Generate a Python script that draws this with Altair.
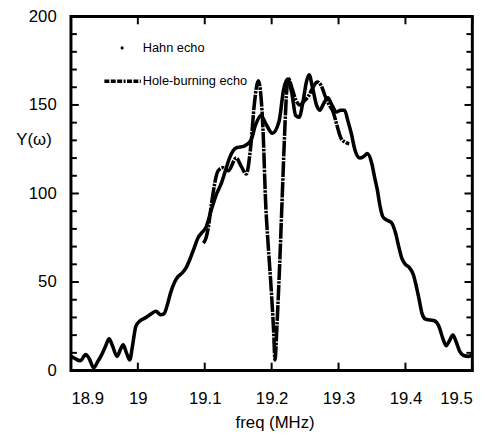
import altair as alt
import pandas as pd

# ---- data ----
hahn_x = [18.900, 18.905, 18.914, 18.922, 18.927, 18.934, 18.940, 18.946, 18.952, 18.957,
          18.962, 18.969, 18.974, 18.978, 18.983, 18.988, 18.992, 18.997, 19.003, 19.010,
          19.018, 19.027, 19.034, 19.039, 19.044, 19.049, 19.055, 19.060, 19.066, 19.072,
          19.078, 19.084, 19.090, 19.096, 19.102, 19.110, 19.118, 19.125, 19.131, 19.137,
          19.147, 19.159, 19.169, 19.176, 19.184, 19.191, 19.201, 19.211, 19.218, 19.224,
          19.230, 19.236, 19.241, 19.247, 19.252, 19.256, 19.261, 19.267, 19.272, 19.278,
          19.284, 19.290, 19.297, 19.303, 19.309, 19.314, 19.319, 19.325, 19.332, 19.338,
          19.343, 19.350, 19.354, 19.358, 19.362, 19.366, 19.372, 19.379, 19.385, 19.390,
          19.395, 19.400, 19.405, 19.412, 19.416, 19.420, 19.425, 19.430, 19.437, 19.444,
          19.450, 19.456, 19.461, 19.466, 19.471, 19.476, 19.481, 19.487, 19.494, 19.500]
hahn_y = [8, 7, 5.5, 9, 7, 1.5, 5, 9, 14, 18,
          14, 8, 12, 14.5, 10, 6, 14, 25, 28, 29.5,
          31.5, 33.5, 31.5, 32, 37, 44, 50, 53, 55, 58,
          63, 69, 75, 78, 81, 91, 100, 106, 113, 120,
          125.7, 126.7, 130, 138.7, 144, 139.6, 134, 140.6, 159, 164.6,
          157, 144, 143, 152, 163, 167, 160, 150, 147, 151,
          154, 150, 146, 147, 147, 141, 134, 124, 120, 121,
          122.5, 116.5, 109, 102, 93, 87, 85, 83.5, 78, 70,
          63, 60, 58.5, 54, 48, 41, 32, 29, 28.5, 28,
          25, 18, 14, 17, 20, 16, 11, 8.5, 8, 9]

hole_x = [19.098, 19.102, 19.105, 19.110, 19.120, 19.127, 19.135, 19.147, 19.155, 19.162,
          19.169, 19.174, 19.180, 19.184, 19.187, 19.191, 19.195, 19.199, 19.203, 19.205,
          19.208, 19.212, 19.216, 19.219, 19.222, 19.225, 19.230, 19.236, 19.242, 19.248,
          19.255, 19.262, 19.268, 19.274, 19.280, 19.286, 19.292, 19.298, 19.304, 19.310,
          19.316]
hole_y = [72, 75, 80, 94, 112.8, 114.6, 112.8, 120, 115, 111,
          127.6, 150, 163.7, 155, 137, 95, 70, 48, 22, 6,
          26, 60, 100, 130, 155, 165, 160, 153, 150, 152,
          155, 160, 163, 161, 155, 150, 146, 138, 131, 129,
          128]

series_names = ["Hahn echo", "Hole-burning echo"]
x_ticks = [18.9, 19.0, 19.1, 19.2, 19.3, 19.4, 19.5]
y_major = [0, 50, 100, 150, 200]
y_minor = [10, 20, 30, 40, 60, 70, 80, 90, 110, 120, 130, 140, 160, 170, 180, 190]

W, H = 408, 360
FONT = "Liberation Sans"

hahn = pd.DataFrame({"freq": hahn_x, "Y": hahn_y})
hole = pd.DataFrame({"freq": hole_x, "Y": hole_y})
xt = pd.DataFrame({"v": x_ticks})
ymaj = pd.DataFrame({"v": y_major})
ymin = pd.DataFrame({"v": y_minor})

xscale = alt.Scale(domain=[18.9, 19.5], nice=False, zero=False)
yscale = alt.Scale(domain=[0, 200], nice=False, zero=False)

xaxis = alt.Axis(values=x_ticks, format=".1~f", labelFontSize=17, labelFont=FONT,
                 tickSize=0, domain=False, grid=False, labelPadding=20,
                 title="freq (MHz)", titleFontSize=17, titleFont=FONT,
                 titleFontWeight="normal", titlePadding=9, titleX=207, labelColor="black",
                 titleColor="black")
yaxis = alt.Axis(values=y_major, labelFontSize=17, labelFont=FONT, tickSize=0,
                 domain=False, grid=False, labelPadding=15, title="Y(ω)",
                 titleAngle=0, titleX=-56, titleY=125, titleAlign="left",
                 titleBaseline="middle", titleFontSize=17, titleFont=FONT,
                 titleFontWeight="normal", labelColor="black", titleColor="black")

hahn_line = alt.Chart(hahn).mark_line(color="black", strokeWidth=3.6, interpolate="monotone",
                                      clip=True).encode(
    x=alt.X("freq:Q", scale=xscale, axis=xaxis),
    y=alt.Y("Y:Q", scale=yscale, axis=yaxis),
)

DASH = [16, 1.2, 2.5, 1.2]
hole_line = alt.Chart(hole).mark_line(color="black", strokeWidth=3.6, interpolate="monotone",
                                      strokeDash=DASH, clip=True).encode(
    x=alt.X("freq:Q", scale=xscale),
    y=alt.Y("Y:Q", scale=yscale),
)

tick_style = dict(color="black", strokeWidth=2)
xt_bottom = alt.Chart(xt).mark_rule(**tick_style).encode(
    x=alt.X("v:Q", scale=xscale), y=alt.value(H), y2=alt.value(H - 8))
xt_top = alt.Chart(xt).mark_rule(**tick_style).encode(
    x=alt.X("v:Q", scale=xscale), y=alt.value(0), y2=alt.value(8))
ymaj_left = alt.Chart(ymaj).mark_rule(**tick_style).encode(
    y=alt.Y("v:Q", scale=yscale), x=alt.value(0), x2=alt.value(8))
ymaj_right = alt.Chart(ymaj).mark_rule(**tick_style).encode(
    y=alt.Y("v:Q", scale=yscale), x=alt.value(W), x2=alt.value(W - 8))
ymin_left = alt.Chart(ymin).mark_rule(**tick_style).encode(
    y=alt.Y("v:Q", scale=yscale), x=alt.value(0), x2=alt.value(6))
ymin_right = alt.Chart(ymin).mark_rule(**tick_style).encode(
    y=alt.Y("v:Q", scale=yscale), x=alt.value(W), x2=alt.value(W - 6))

leg1 = pd.DataFrame({"label": [series_names[0]]})
leg2 = pd.DataFrame({"label": [series_names[1]]})
leg_dot = alt.Chart(leg1).mark_circle(color="black", size=10, opacity=1).encode(
    x=alt.value(52), y=alt.value(32))
leg_txt1 = alt.Chart(leg1).mark_text(align="left", baseline="middle", fontSize=13,
                                     font=FONT, color="black").encode(
    x=alt.value(73), y=alt.value(32), text="label:N")
leg_line = alt.Chart(leg2).mark_rule(color="black", strokeWidth=3.6,
                                     strokeDash=[5, 1.5, 5, 1.5, 5, 1.5, 2, 1.5]).encode(
    x=alt.value(34), x2=alt.value(71), y=alt.value(66))
leg_txt2 = alt.Chart(leg2).mark_text(align="left", baseline="middle", fontSize=13,
                                     font=FONT, color="black").encode(
    x=alt.value(73), y=alt.value(66), text="label:N")

chart = alt.layer(
    hahn_line, hole_line,
    xt_bottom, xt_top, ymaj_left, ymaj_right, ymin_left, ymin_right,
    leg_dot, leg_txt1, leg_line, leg_txt2,
).properties(
    width=W, height=H,
    autosize=alt.AutoSizeParams(type="none"),
    padding={"left": 64, "top": 5, "right": 20, "bottom": 64},
    background="white",
).configure_view(stroke="black", strokeWidth=3)

chart.save("out.html", embed_options={"renderer": "svg", "actions": False})
